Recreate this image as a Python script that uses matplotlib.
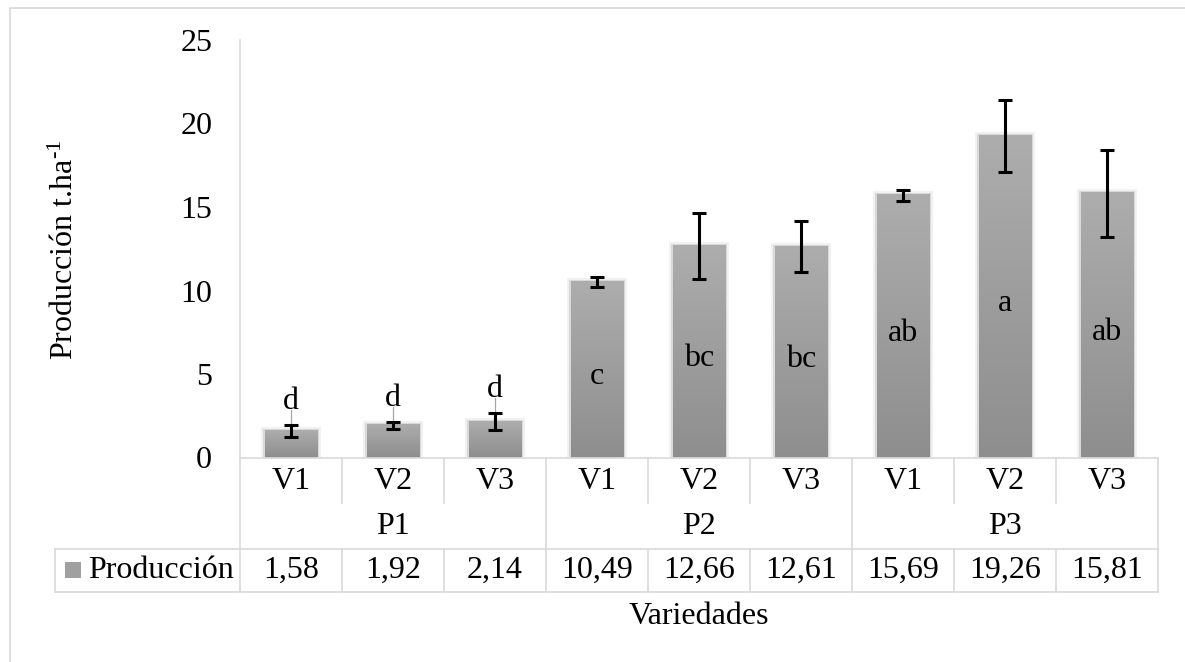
import numpy as np
import matplotlib.pyplot as plt
from matplotlib import patheffects as pe
from matplotlib.colors import LinearSegmentedColormap
from matplotlib.patches import Rectangle

plt.rcParams['font.family'] = ['Liberation Serif', 'DejaVu Serif']
plt.rcParams['mathtext.fontset'] = 'custom'
plt.rcParams['mathtext.rm'] = 'Liberation Serif'
plt.rcParams['mathtext.it'] = 'Liberation Serif:italic'

# datos
parcelas = ['P1', 'P2', 'P3']
variedades = ['V1', 'V2', 'V3']
produccion = [1.58, 1.92, 2.14, 10.49, 12.66, 12.61, 15.69, 19.26, 15.81]
error = [0.35, 0.22, 0.52, 0.29, 1.96, 1.53, 0.32, 2.17, 2.59]
letras = ['d', 'd', 'd', 'c', 'bc', 'bc', 'ab', 'a', 'ab']

GRID = '#d9d9d9'
FS = 23
W, H = 1185, 662

fig = plt.figure(figsize=(W / 100, H / 100), dpi=100)

# marco del grafico
marco = fig.add_axes([0, 0, 1, 1])
marco.set_xlim(0, W)
marco.set_ylim(H, 0)
marco.axis('off')
marco.plot([10, 10, W], [H, 8, 8], color=GRID, lw=1.2)

ax = fig.add_axes([240 / W, 1 - 457.5 / H, 918 / W, 417.5 / H])
ax.set_facecolor('none')

n = len(produccion)
x = np.arange(n) + 0.5
sombra = [pe.withStroke(linewidth=6, foreground=(0, 0, 0, 0.05)),
          pe.withStroke(linewidth=3, foreground=(0, 0, 0, 0.10)),
          pe.Normal()]
bars = ax.bar(x, produccion, width=0.51, color='#9e9e9e', linewidth=0,
              zorder=2, path_effects=sombra)

# degradado vertical en cada barra
cmap = LinearSegmentedColormap.from_list('gris', ['#8e8e8e', '#adadad'])
grad = np.linspace(0, 1, 256).reshape(-1, 1)
for b in bars:
    x0, w, h = b.get_x(), b.get_width(), b.get_height()
    ax.imshow(grad, extent=[x0, x0 + w, 0, h], origin='lower', cmap=cmap,
              aspect='auto', zorder=3)

ax.errorbar(x, produccion, yerr=error, fmt='none', ecolor='black',
            elinewidth=2.2, capsize=5, capthick=2.2, zorder=5)

# letras de significancia
for xi, v, e, l in zip(x, produccion, error, letras):
    if v < 5:
        yl = v + e + 1.4
        ax.plot([xi, xi], [v, yl - 0.5], color='#a6a6a6', lw=0.9, zorder=4)
        ax.text(xi, yl, l, ha='center', va='center', fontsize=FS, zorder=6)
    else:
        ax.text(xi, v / 2 - 0.42, l, ha='center', va='center', fontsize=FS,
                zorder=6)

ax.set_xlim(0, n)
ax.set_ylim(0, 25)
ax.set_yticks(range(0, 26, 5))
ax.set_xticks([])
ax.tick_params(axis='y', length=0, pad=20, labelsize=FS)
for s in ['top', 'right']:
    ax.spines[s].set_visible(False)
for s in ['left', 'bottom']:
    ax.spines[s].set_color(GRID)
    ax.spines[s].set_linewidth(1.2)

# tabla de datos bajo el eje
tr = ax.get_xaxis_transform()
ROW_V, ROW_P, ROW_D = -0.108, -0.218, -0.321
XL = -1.814
kw = dict(color=GRID, lw=1.2, transform=tr, clip_on=False)
for i in range(n + 1):
    if i % 3 == 0:
        ax.plot([i, i], [0, ROW_D], **kw)
    else:
        ax.plot([i, i], [0, ROW_V], **kw)
        ax.plot([i, i], [ROW_P, ROW_D], **kw)
ax.plot([XL, XL], [ROW_P, ROW_D], **kw)
ax.plot([XL, n], [ROW_P, ROW_P], **kw)
ax.plot([XL, n], [ROW_D, ROW_D], **kw)

for i, xi in enumerate(x):
    ax.text(xi, -0.058, variedades[i % 3], ha='center', va='center',
            fontsize=FS, transform=tr)
    ax.text(xi, -0.2695, f'{produccion[i]:.2f}'.replace('.', ','),
            ha='center', va='center', fontsize=FS, transform=tr)
for g, p in enumerate(parcelas):
    ax.text(3 * g + 1.5, -0.165, p, ha='center', va='center',
            fontsize=FS, transform=tr)

ax.add_patch(Rectangle((-1.716, -0.288), 0.157, 0.038, transform=tr,
                       facecolor='#a0a0a0', edgecolor='none', clip_on=False))
ax.text(-1.49, -0.2695, 'Producción', ha='left', va='center',
        fontsize=FS, transform=tr)

ax.text(0.5, -0.382, 'Variedades', ha='center', va='center',
        fontsize=FS, transform=ax.transAxes)
fig.text(65 / W, 1 - 250 / H, 'Producción t.ha$^{\\text{-1}}$', rotation=90,
         ha='center', va='center', fontsize=FS)

fig.savefig('out.png', dpi=100)
